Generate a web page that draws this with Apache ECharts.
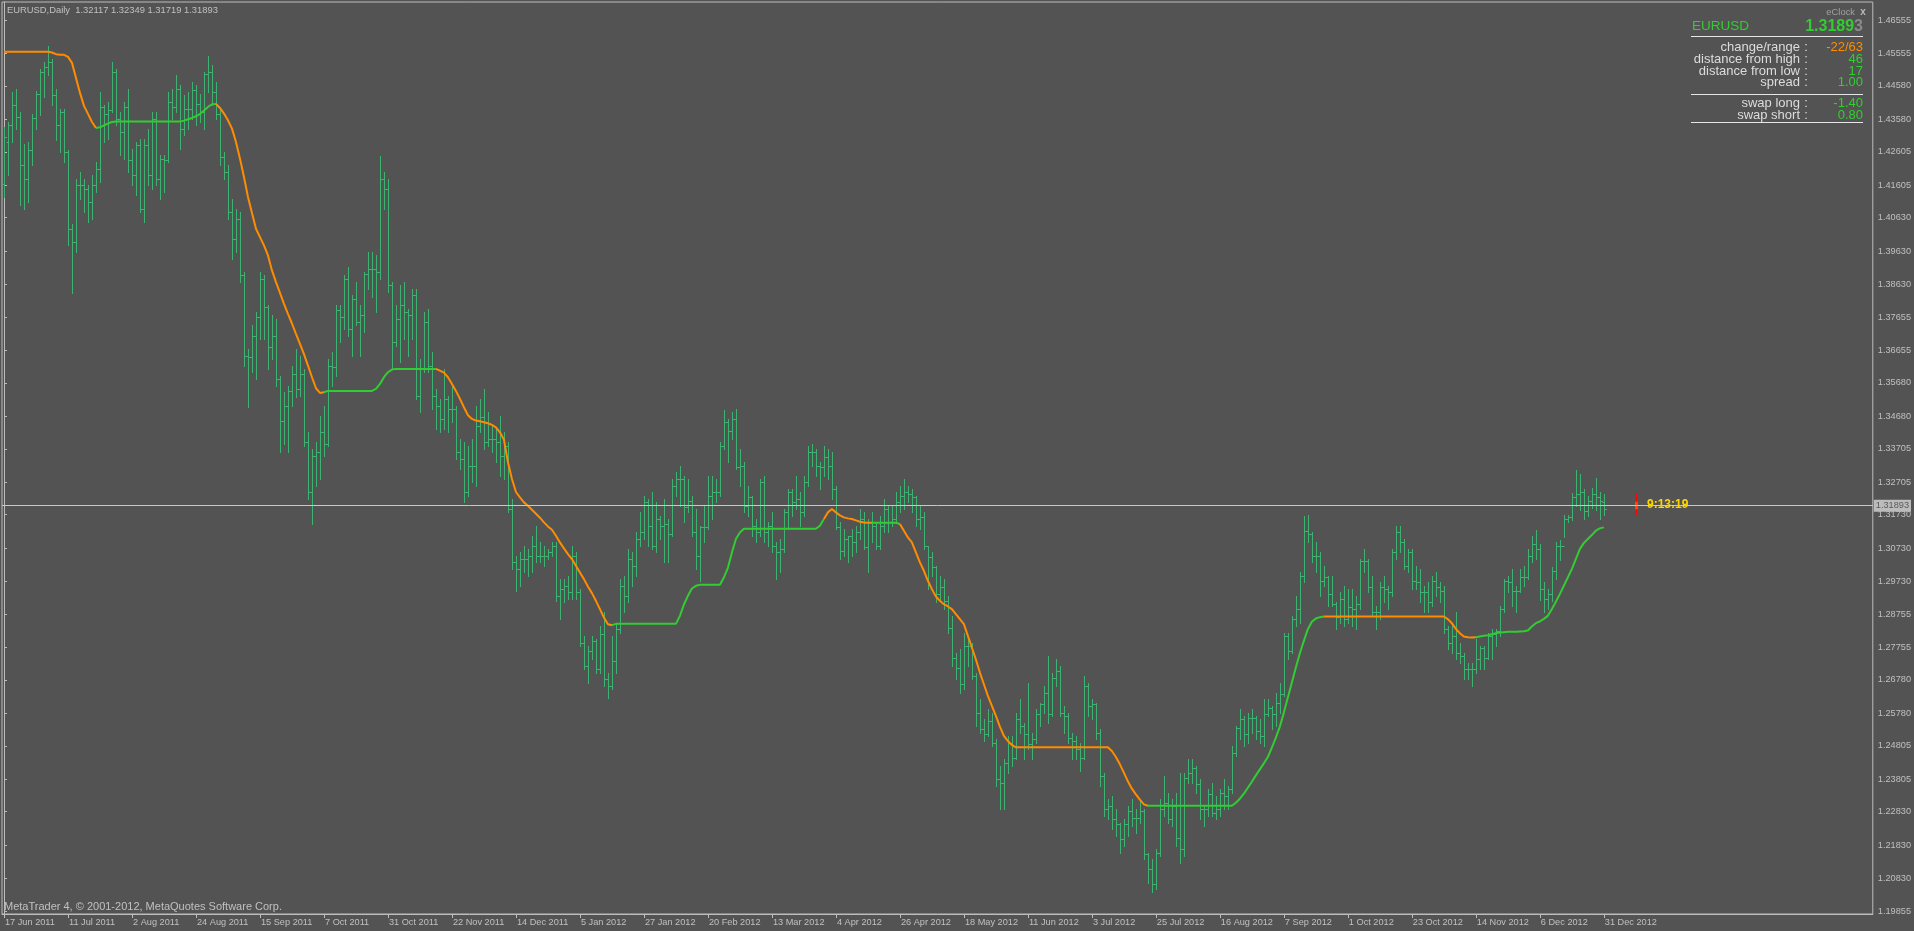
<!DOCTYPE html>
<html><head><meta charset="utf-8">
<script src="https://cdn.jsdelivr.net/npm/echarts@6/dist/echarts.min.js"></script>
<style>html,body{margin:0;padding:0;background:#535353;overflow:hidden}#c{width:1914px;height:931px}</style>
</head><body><div id="c"></div>
<script>
const tickLabels = ['17 Jun 2011','11 Jul 2011','2 Aug 2011','24 Aug 2011','15 Sep 2011','7 Oct 2011','31 Oct 2011','22 Nov 2011','14 Dec 2011','5 Jan 2012','27 Jan 2012','20 Feb 2012','13 Mar 2012','4 Apr 2012','26 Apr 2012','18 May 2012','11 Jun 2012','3 Jul 2012','25 Jul 2012','16 Aug 2012','7 Sep 2012','1 Oct 2012','23 Oct 2012','14 Nov 2012','6 Dec 2012','31 Dec 2012'];
const tickIndices = [0,16,32,48,64,80,96,112,128,144,160,176,192,208,224,240,256,272,288,304,320,336,352,368,384,400];
const yTickLabels = [1.46555,1.45555,1.44580,1.43580,1.42605,1.41605,1.40630,1.39630,1.38630,1.37655,1.36655,1.35680,1.34680,1.33705,1.32705,1.31730,1.30730,1.29730,1.28755,1.27755,1.26780,1.25780,1.24805,1.23805,1.22830,1.21830,1.20830,1.19855];
// daily bars [open, high, low, close]
const bars = [
[1.4165,1.4336,1.4125,1.4306],[1.4290,1.4350,1.4190,1.4340],[1.4340,1.4440,1.4290,1.4400],[1.4400,1.4450,1.4330,1.4366],[1.4366,1.4380,1.4100,1.4220],
[1.4220,1.4285,1.4090,1.4180],[1.4180,1.4290,1.4110,1.4265],[1.4265,1.4375,1.4220,1.4363],[1.4363,1.4443,1.4330,1.4433],[1.4433,1.4510,1.4370,1.4500],
[1.4500,1.4530,1.4425,1.4515],[1.4515,1.4578,1.4490,1.4530],[1.4530,1.4540,1.4400,1.4430],[1.4430,1.4450,1.4295,1.4340],[1.4340,1.4390,1.4260,1.4380],
[1.4380,1.4390,1.4230,1.4260],[1.4260,1.4265,1.3980,1.4030],[1.4030,1.4045,1.3837,1.3990],[1.3990,1.4180,1.3960,1.4160],[1.4160,1.4200,1.4120,1.4160],
[1.4160,1.4180,1.4080,1.4150],[1.4150,1.4160,1.4050,1.4110],[1.4110,1.4190,1.4060,1.4160],[1.4160,1.4230,1.4140,1.4210],[1.4210,1.4440,1.4170,1.4395],
[1.4395,1.4400,1.4290,1.4375],[1.4375,1.4410,1.4300,1.4385],[1.4385,1.4530,1.4380,1.4500],[1.4500,1.4510,1.4340,1.4360],[1.4360,1.4380,1.4250,1.4320],
[1.4320,1.4410,1.4240,1.4395],[1.4395,1.4450,1.4200,1.4235],[1.4235,1.4270,1.4160,1.4190],[1.4190,1.4290,1.4130,1.4280],[1.4280,1.4300,1.4080,1.4090],
[1.4090,1.4300,1.4050,1.4280],[1.4280,1.4330,1.4160,1.4190],[1.4190,1.4380,1.4150,1.4360],[1.4360,1.4380,1.4160,1.4180],[1.4180,1.4250,1.4120,1.4240],
[1.4240,1.4250,1.4140,1.4235],[1.4235,1.4440,1.4230,1.4410],[1.4410,1.4450,1.4360,1.4395],[1.4395,1.4490,1.4380,1.4450],[1.4450,1.4460,1.4270,1.4330],
[1.4330,1.4430,1.4310,1.4390],[1.4390,1.4440,1.4330,1.4390],[1.4390,1.4470,1.4360,1.4445],[1.4445,1.4460,1.4340,1.4405],[1.4405,1.4435,1.4350,1.4380],
[1.4380,1.4500,1.4330,1.4495],[1.4495,1.4548,1.4440,1.4500],[1.4500,1.4520,1.4400,1.4440],[1.4440,1.4470,1.4360,1.4375],[1.4375,1.4390,1.4220,1.4245],
[1.4245,1.4260,1.4180,1.4200],[1.4200,1.4220,1.4060,1.4080],[1.4080,1.4120,1.3940,1.4000],[1.4000,1.4090,1.3960,1.4060],[1.4060,1.4080,1.3870,1.3890],
[1.3890,1.3900,1.3620,1.3650],[1.3650,1.3670,1.3495,1.3645],[1.3645,1.3740,1.3600,1.3710],[1.3710,1.3780,1.3580,1.3765],[1.3765,1.3900,1.3700,1.3880],
[1.3880,1.3890,1.3700,1.3795],[1.3795,1.3800,1.3610,1.3675],[1.3675,1.3770,1.3640,1.3710],[1.3710,1.3760,1.3560,1.3580],[1.3580,1.3590,1.3360,1.3455],
[1.3455,1.3540,1.3385,1.3500],[1.3500,1.3560,1.3360,1.3545],[1.3545,1.3620,1.3500,1.3595],[1.3595,1.3670,1.3525,1.3550],[1.3550,1.3650,1.3530,1.3595],
[1.3595,1.3610,1.3380,1.3390],[1.3390,1.3420,1.3220,1.3240],[1.3240,1.3370,1.3146,1.3350],[1.3350,1.3390,1.3260,1.3360],[1.3360,1.3470,1.3280,1.3420],
[1.3420,1.3500,1.3350,1.3385],[1.3385,1.3640,1.3380,1.3620],[1.3620,1.3660,1.3560,1.3615],[1.3615,1.3800,1.3590,1.3785],[1.3785,1.3800,1.3690,1.3765],
[1.3765,1.3890,1.3730,1.3880],[1.3880,1.3915,1.3710,1.3730],[1.3730,1.3830,1.3650,1.3820],[1.3820,1.3870,1.3740,1.3750],[1.3750,1.3800,1.3650,1.3770],
[1.3770,1.3900,1.3720,1.3895],[1.3895,1.3960,1.3850,1.3910],[1.3910,1.3960,1.3825,1.3910],[1.3910,1.3950,1.3780,1.3900],[1.3900,1.4247,1.3880,1.4180],
[1.4180,1.4200,1.4090,1.4150],[1.4150,1.4180,1.3840,1.3860],[1.3860,1.3870,1.3610,1.3690],[1.3690,1.3800,1.3680,1.3760],[1.3760,1.3860,1.3630,1.3800],
[1.3800,1.3870,1.3700,1.3780],[1.3780,1.3790,1.3650,1.3770],[1.3770,1.3850,1.3700,1.3830],[1.3830,1.3850,1.3520,1.3530],[1.3530,1.3640,1.3480,1.3610],
[1.3610,1.3780,1.3600,1.3750],[1.3750,1.3790,1.3600,1.3620],[1.3620,1.3660,1.3490,1.3530],[1.3530,1.3550,1.3430,1.3500],[1.3500,1.3520,1.3420,1.3460],
[1.3460,1.3610,1.3430,1.3520],[1.3520,1.3530,1.3420,1.3490],[1.3490,1.3560,1.3450,1.3490],[1.3490,1.3500,1.3340,1.3360],[1.3360,1.3400,1.3310,1.3340],
[1.3340,1.3390,1.3210,1.3240],[1.3240,1.3380,1.3230,1.3320],[1.3320,1.3400,1.3270,1.3320],[1.3320,1.3500,1.3260,1.3440],[1.3440,1.3520,1.3420,1.3465],
[1.3465,1.3550,1.3370,1.3390],[1.3390,1.3480,1.3380,1.3400],[1.3400,1.3440,1.3360,1.3400],[1.3400,1.3430,1.3330,1.3390],[1.3390,1.3470,1.3290,1.3350],
[1.3350,1.3420,1.3280,1.3380],[1.3380,1.3390,1.3180,1.3190],[1.3190,1.3220,1.3010,1.3030],[1.3030,1.3050,1.2945,1.3010],[1.3010,1.3060,1.2960,1.3040],
[1.3040,1.3080,1.3000,1.3040],[1.3040,1.3070,1.2990,1.3050],[1.3050,1.3110,1.3000,1.3080],[1.3080,1.3140,1.3030,1.3050],[1.3050,1.3090,1.3030,1.3050],
[1.3050,1.3080,1.3020,1.3050],[1.3050,1.3070,1.3040,1.3060],[1.3060,1.3090,1.3050,1.3080],[1.3080,1.3090,1.2915,1.2930],[1.2930,1.2980,1.2860,1.2950],
[1.2950,1.2980,1.2910,1.2960],[1.2960,1.2990,1.2920,1.2940],[1.2940,1.3080,1.2920,1.3050],[1.3050,1.3060,1.2920,1.2940],[1.2940,1.2950,1.2780,1.2790],
[1.2790,1.2810,1.2710,1.2720],[1.2720,1.2780,1.2670,1.2765],[1.2765,1.2810,1.2740,1.2795],[1.2795,1.2800,1.2700,1.2710],[1.2710,1.2840,1.2700,1.2815],
[1.2815,1.2880,1.2660,1.2680],[1.2680,1.2700,1.2625,1.2660],[1.2660,1.2810,1.2650,1.2735],[1.2735,1.2850,1.2700,1.2830],[1.2830,1.2980,1.2820,1.2960],
[1.2960,1.2990,1.2880,1.2930],[1.2930,1.3070,1.2910,1.3040],[1.3040,1.3060,1.2960,1.3020],[1.3020,1.3120,1.2990,1.3100],[1.3100,1.3180,1.3080,1.3120],
[1.3120,1.3230,1.3100,1.3210],[1.3210,1.3220,1.3080,1.3140],[1.3140,1.3240,1.3070,1.3080],[1.3080,1.3210,1.3060,1.3160],[1.3160,1.3170,1.3100,1.3140],
[1.3140,1.3220,1.3030,1.3145],[1.3145,1.3160,1.3030,1.3115],[1.3115,1.3280,1.3110,1.3260],[1.3260,1.3300,1.3230,1.3280],[1.3280,1.3320,1.3200,1.3280],
[1.3280,1.3290,1.3150,1.3195],[1.3195,1.3280,1.3180,1.3215],[1.3215,1.3230,1.3110,1.3120],[1.3120,1.3190,1.3010,1.3050],[1.3050,1.3140,1.2975,1.3135],
[1.3135,1.3200,1.3090,1.3135],[1.3135,1.3290,1.3130,1.3230],[1.3230,1.3290,1.3160,1.3240],[1.3240,1.3280,1.3210,1.3240],[1.3240,1.3390,1.3230,1.3380],
[1.3380,1.3486,1.3370,1.3450],[1.3450,1.3460,1.3330,1.3425],[1.3425,1.3480,1.3400,1.3460],[1.3460,1.3490,1.3310,1.3315],[1.3315,1.3370,1.3260,1.3320],
[1.3320,1.3330,1.3180,1.3200],[1.3200,1.3260,1.3170,1.3225],[1.3225,1.3230,1.3110,1.3140],[1.3140,1.3160,1.3090,1.3120],[1.3120,1.3280,1.3110,1.3270],
[1.3270,1.3290,1.3090,1.3120],[1.3120,1.3150,1.3080,1.3140],[1.3140,1.3180,1.3060,1.3080],[1.3080,1.3090,1.2980,1.3060],[1.3060,1.3100,1.3000,1.3070],
[1.3070,1.3190,1.3060,1.3180],[1.3180,1.3250,1.3130,1.3240],[1.3240,1.3250,1.3170,1.3210],[1.3210,1.3290,1.3190,1.3220],[1.3220,1.3240,1.3140,1.3180],
[1.3180,1.3290,1.3170,1.3270],[1.3270,1.3380,1.3260,1.3360],[1.3360,1.3385,1.3320,1.3360],[1.3360,1.3370,1.3290,1.3320],[1.3320,1.3330,1.3250,1.3315],
[1.3315,1.3380,1.3290,1.3345],[1.3345,1.3370,1.3280,1.3320],[1.3320,1.3360,1.3220,1.3250],[1.3250,1.3260,1.3130,1.3135],[1.3135,1.3150,1.3040,1.3065],
[1.3065,1.3130,1.3050,1.3100],[1.3100,1.3110,1.3030,1.3110],[1.3110,1.3130,1.3050,1.3090],[1.3090,1.3140,1.3060,1.3120],[1.3120,1.3190,1.3100,1.3160],
[1.3160,1.3180,1.3070,1.3075],[1.3075,1.3160,1.3000,1.3150],[1.3150,1.3180,1.3090,1.3140],[1.3140,1.3150,1.3070,1.3080],[1.3080,1.3170,1.3070,1.3140],
[1.3140,1.3220,1.3120,1.3190],[1.3190,1.3200,1.3120,1.3150],[1.3150,1.3200,1.3140,1.3160],[1.3160,1.3240,1.3150,1.3210],[1.3210,1.3260,1.3180,1.3230],
[1.3230,1.3280,1.3190,1.3240],[1.3240,1.3260,1.3210,1.3235],[1.3235,1.3250,1.3180,1.3225],[1.3225,1.3230,1.3140,1.3160],[1.3160,1.3200,1.3130,1.3165],
[1.3165,1.3180,1.3070,1.3080],[1.3080,1.3080,1.2950,1.3045],[1.3045,1.3060,1.2990,1.3015],[1.3015,1.3020,1.2910,1.2935],[1.2935,1.2990,1.2920,1.2955],
[1.2955,1.2980,1.2890,1.2915],[1.2915,1.2930,1.2820,1.2835],[1.2835,1.2870,1.2720,1.2745],[1.2745,1.2760,1.2680,1.2715],[1.2715,1.2770,1.2640,1.2665],
[1.2665,1.2820,1.2650,1.2780],[1.2780,1.2810,1.2720,1.2780],[1.2780,1.2790,1.2680,1.2690],[1.2690,1.2700,1.2540,1.2580],[1.2580,1.2620,1.2520,1.2530],
[1.2530,1.2560,1.2495,1.2515],[1.2515,1.2590,1.2510,1.2555],[1.2555,1.2580,1.2480,1.2490],[1.2490,1.2500,1.2360,1.2380],[1.2380,1.2420,1.2290,1.2370],
[1.2370,1.2440,1.2290,1.2430],[1.2430,1.2510,1.2400,1.2490],[1.2490,1.2510,1.2420,1.2445],[1.2445,1.2580,1.2440,1.2560],[1.2560,1.2620,1.2520,1.2540],
[1.2540,1.2550,1.2440,1.2515],[1.2515,1.2670,1.2470,1.2485],[1.2485,1.2520,1.2440,1.2500],[1.2500,1.2590,1.2490,1.2575],[1.2575,1.2610,1.2540,1.2605],
[1.2605,1.2660,1.2580,1.2640],[1.2640,1.2750,1.2550,1.2575],[1.2575,1.2700,1.2570,1.2685],[1.2685,1.2740,1.2660,1.2705],[1.2705,1.2720,1.2570,1.2580],
[1.2580,1.2600,1.2520,1.2570],[1.2570,1.2580,1.2490,1.2505],[1.2505,1.2520,1.2440,1.2495],[1.2495,1.2510,1.2440,1.2470],[1.2470,1.2490,1.2405,1.2445],
[1.2445,1.2690,1.2440,1.2660],[1.2660,1.2670,1.2570,1.2600],[1.2600,1.2620,1.2560,1.2605],[1.2605,1.2610,1.2500,1.2520],[1.2520,1.2530,1.2360,1.2390],
[1.2390,1.2400,1.2270,1.2290],[1.2290,1.2320,1.2260,1.2300],[1.2300,1.2330,1.2230,1.2260],[1.2260,1.2290,1.2210,1.2245],[1.2245,1.2250,1.2160,1.2200],
[1.2200,1.2260,1.2180,1.2245],[1.2245,1.2300,1.2210,1.2285],[1.2285,1.2320,1.2240,1.2265],[1.2265,1.2290,1.2220,1.2265],[1.2265,1.2320,1.2250,1.2285],
[1.2285,1.2290,1.2140,1.2155],[1.2155,1.2160,1.2070,1.2110],[1.2110,1.2140,1.2042,1.2065],[1.2065,1.2170,1.2050,1.2160],[1.2160,1.2320,1.2150,1.2290],
[1.2290,1.2390,1.2270,1.2310],[1.2310,1.2340,1.2250,1.2260],[1.2260,1.2320,1.2240,1.2300],[1.2300,1.2340,1.2180,1.2205],[1.2205,1.2400,1.2130,1.2170],
[1.2170,1.2400,1.2150,1.2385],[1.2385,1.2440,1.2370,1.2400],[1.2400,1.2440,1.2370,1.2415],[1.2415,1.2420,1.2340,1.2365],[1.2365,1.2380,1.2260,1.2290],
[1.2290,1.2300,1.2240,1.2290],[1.2290,1.2350,1.2270,1.2335],[1.2335,1.2370,1.2270,1.2280],[1.2280,1.2330,1.2260,1.2290],[1.2290,1.2350,1.2270,1.2340],
[1.2340,1.2380,1.2290,1.2330],[1.2330,1.2360,1.2290,1.2350],[1.2350,1.2480,1.2340,1.2460],[1.2460,1.2540,1.2450,1.2535],[1.2535,1.2590,1.2500,1.2560],
[1.2560,1.2570,1.2480,1.2515],[1.2515,1.2580,1.2490,1.2565],[1.2565,1.2590,1.2520,1.2565],[1.2565,1.2570,1.2500,1.2525],[1.2525,1.2560,1.2490,1.2510],
[1.2510,1.2620,1.2480,1.2575],[1.2575,1.2620,1.2570,1.2595],[1.2595,1.2600,1.2530,1.2575],[1.2575,1.2640,1.2540,1.2610],[1.2610,1.2670,1.2580,1.2635],
[1.2635,1.2820,1.2630,1.2810],[1.2810,1.2820,1.2740,1.2765],[1.2765,1.2870,1.2760,1.2860],[1.2860,1.2930,1.2840,1.2890],[1.2890,1.3000,1.2850,1.2990],
[1.2990,1.3170,1.2970,1.3125],[1.3125,1.3172,1.3090,1.3115],[1.3115,1.3120,1.3030,1.3050],[1.3050,1.3090,1.3000,1.3050],[1.3050,1.3060,1.2930,1.2975],
[1.2975,1.3020,1.2960,1.2985],[1.2985,1.2990,1.2900,1.2935],[1.2935,1.2990,1.2900,1.2905],[1.2905,1.2910,1.2830,1.2865],[1.2865,1.2940,1.2850,1.2920],
[1.2920,1.2960,1.2840,1.2860],[1.2860,1.2950,1.2850,1.2895],[1.2895,1.2950,1.2840,1.2890],[1.2890,1.2930,1.2830,1.2905],[1.2905,1.3040,1.2890,1.3035],
[1.3035,1.3070,1.3000,1.3035],[1.3035,1.3040,1.2940,1.2955],[1.2955,1.2990,1.2870,1.2880],[1.2880,1.2900,1.2830,1.2880],[1.2880,1.2970,1.2860,1.2955],
[1.2955,1.2990,1.2910,1.2950],[1.2950,1.2960,1.2890,1.2940],[1.2940,1.3070,1.2930,1.3060],[1.3060,1.3140,1.3040,1.3120],[1.3120,1.3140,1.3060,1.3090],
[1.3090,1.3100,1.3010,1.3020],[1.3020,1.3070,1.3000,1.3060],[1.3060,1.3070,1.2950,1.2975],[1.2975,1.3020,1.2950,1.2970],[1.2970,1.3010,1.2910,1.2940],
[1.2940,1.2960,1.2880,1.2940],[1.2940,1.2970,1.2880,1.2910],[1.2910,1.2990,1.2900,1.2975],[1.2975,1.3000,1.2930,1.2955],[1.2955,1.2970,1.2910,1.2945],
[1.2945,1.2960,1.2820,1.2830],[1.2830,1.2840,1.2770,1.2790],[1.2790,1.2850,1.2760,1.2810],[1.2810,1.2880,1.2740,1.2760],[1.2760,1.2790,1.2730,1.2750],
[1.2750,1.2760,1.2680,1.2710],[1.2710,1.2730,1.2680,1.2710],[1.2710,1.2730,1.2661,1.2710],[1.2710,1.2800,1.2700,1.2740],[1.2740,1.2780,1.2710,1.2775],
[1.2775,1.2780,1.2710,1.2745],[1.2745,1.2820,1.2740,1.2810],[1.2810,1.2830,1.2740,1.2815],[1.2815,1.2830,1.2780,1.2825],[1.2825,1.2900,1.2810,1.2890],
[1.2890,1.2980,1.2880,1.2975],[1.2975,1.2990,1.2940,1.2970],[1.2970,1.3010,1.2900,1.2945],[1.2945,1.2960,1.2880,1.2945],[1.2945,1.3010,1.2940,1.2985],
[1.2985,1.3020,1.2960,1.2985],[1.2985,1.3070,1.2980,1.3050],[1.3050,1.3110,1.3030,1.3085],[1.3085,1.3127,1.3040,1.3070],[1.3070,1.3085,1.2917,1.2950],
[1.2950,1.2970,1.2880,1.2920],[1.2920,1.2950,1.2890,1.2935],[1.2935,1.3017,1.2913,1.3005],[1.3005,1.3090,1.2980,1.3080],[1.3080,1.3097,1.3037,1.3080],
[1.3080,1.3172,1.3106,1.3160],[1.3160,1.3172,1.3152,1.3165],[1.3165,1.3239,1.3157,1.3225],[1.3225,1.3306,1.3200,1.3235],[1.3235,1.3295,1.3186,1.3240],
[1.3240,1.3250,1.3160,1.3185],[1.3185,1.3230,1.3170,1.3215],[1.3215,1.3253,1.3193,1.3235],[1.3235,1.3283,1.3186,1.3225],[1.3225,1.3240,1.3160,1.3215],
[1.32117,1.32349,1.31719,1.31893]
];
const trendLine = [
1.4560,1.4560,1.4560,1.4560,1.4560,1.4560,1.4560,1.4560,1.4560,1.4560,
1.4560,1.4560,1.4558,1.4553,1.4551,1.4551,1.4545,1.4527,1.4482,1.4437,
1.4398,1.4374,1.4350,1.4332,1.4334,1.4340,1.4345,1.4350,1.4351,1.4351,
1.4351,1.4351,1.4351,1.4351,1.4351,1.4351,1.4351,1.4351,1.4351,1.4351,
1.4351,1.4351,1.4351,1.4351,1.4351,1.4354,1.4358,1.4362,1.4367,1.4374,
1.4384,1.4395,1.4403,1.4404,1.4392,1.4375,1.4355,1.4330,1.4290,1.4240,
1.4185,1.4125,1.4077,1.4030,1.4005,1.3980,1.3950,1.3905,1.3870,1.3838,
1.3805,1.3775,1.3746,1.3715,1.3685,1.3654,1.3620,1.3585,1.3552,1.3538,
1.3540,1.3544,1.3544,1.3544,1.3544,1.3544,1.3544,1.3544,1.3544,1.3544,
1.3544,1.3544,1.3544,1.3550,1.3565,1.3585,1.3600,1.3608,1.3610,1.3610,
1.3610,1.3610,1.3610,1.3610,1.3610,1.3610,1.3610,1.3610,1.3610,1.3605,
1.3599,1.3585,1.3565,1.3544,1.3520,1.3495,1.3471,1.3460,1.3455,1.3453,
1.3450,1.3447,1.3442,1.3435,1.3420,1.3398,1.3330,1.3280,1.3241,1.3225,
1.3210,1.3200,1.3188,1.3176,1.3164,1.3150,1.3138,1.3128,1.3110,1.3090,
1.3072,1.3055,1.3040,1.3020,1.3000,1.2980,1.2958,1.2938,1.2915,1.2890,
1.2865,1.2845,1.2842,1.2846,1.2846,1.2846,1.2846,1.2846,1.2846,1.2846,
1.2846,1.2846,1.2846,1.2846,1.2846,1.2846,1.2846,1.2846,1.2846,1.2870,
1.2904,1.2930,1.2952,1.2960,1.2963,1.2963,1.2963,1.2963,1.2963,1.2963,
1.2985,1.3014,1.3060,1.3100,1.3120,1.3131,1.3131,1.3131,1.3131,1.3131,
1.3131,1.3131,1.3131,1.3131,1.3131,1.3131,1.3131,1.3131,1.3131,1.3131,
1.3131,1.3131,1.3131,1.3131,1.3140,1.3160,1.3180,1.3190,1.3180,1.3171,
1.3165,1.3162,1.3160,1.3156,1.3152,1.3150,1.3149,1.3149,1.3149,1.3149,
1.3149,1.3149,1.3149,1.3149,1.3145,1.3125,1.3105,1.3090,1.3060,1.3030,
1.3005,1.2975,1.2950,1.2928,1.2915,1.2905,1.2898,1.2890,1.2875,1.2860,
1.2845,1.2810,1.2775,1.2739,1.2700,1.2665,1.2630,1.2600,1.2570,1.2538,
1.2510,1.2495,1.2483,1.2476,1.2476,1.2476,1.2476,1.2476,1.2476,1.2476,
1.2476,1.2476,1.2476,1.2476,1.2476,1.2476,1.2476,1.2476,1.2476,1.2476,
1.2476,1.2476,1.2476,1.2476,1.2476,1.2476,1.2476,1.2465,1.2447,1.2425,
1.2400,1.2374,1.2352,1.2335,1.2319,1.2305,1.2301,1.2301,1.2301,1.2301,
1.2301,1.2301,1.2301,1.2301,1.2301,1.2301,1.2301,1.2301,1.2301,1.2301,
1.2301,1.2301,1.2301,1.2301,1.2301,1.2301,1.2301,1.2301,1.2310,1.2322,
1.2337,1.2355,1.2373,1.2392,1.2410,1.2428,1.2447,1.2475,1.2505,1.2538,
1.2580,1.2625,1.2670,1.2715,1.2758,1.2795,1.2830,1.2852,1.2862,1.2866,
1.2868,1.2868,1.2868,1.2868,1.2868,1.2868,1.2868,1.2868,1.2868,1.2868,
1.2868,1.2868,1.2868,1.2868,1.2868,1.2868,1.2868,1.2868,1.2868,1.2868,
1.2868,1.2868,1.2868,1.2868,1.2868,1.2868,1.2868,1.2868,1.2868,1.2868,
1.2868,1.2860,1.2848,1.2831,1.2818,1.2808,1.2806,1.2805,1.2806,1.2808,
1.2810,1.2812,1.2815,1.2818,1.2820,1.2821,1.2822,1.2822,1.2822,1.2823,
1.2824,1.2826,1.2838,1.2848,1.2853,1.2861,1.2870,1.2890,1.2912,1.2935,
1.2960,1.2985,1.3010,1.3040,1.3070,1.3088,1.3100,1.3112,1.3125,1.3132,
1.3135
];
// [first bar index, direction] : 1 = up (green), -1 = down (orange)
const trendSegments = [[0,-1],[23,1],[53,-1],[80,1],[108,-1],[152,1],[205,-1],[217,1],[224,-1],[286,1],[330,-1],[368,1]];
const lastPrice = 1.31893;
const clockText = '9:13:19';
const clockBarShift = 8;

const FONT = 'Liberation Sans, Arial, sans-serif';
const chart = echarts.init(document.getElementById('c'), null, {renderer: 'canvas'});

function dirAt(i) { let d = trendSegments[0][1]; for (const s of trendSegments) { if (i >= s[0]) d = s[1]; } return d; }
const upData = [], dnData = [];
for (let i = 0; i < trendLine.length; i++) {
  const d = dirAt(i), dp = i > 0 ? dirAt(i - 1) : d;
  upData.push([i, (d === 1 || dp === 1) ? trendLine[i] : '-']);
  dnData.push([i, (d === -1 || dp === -1) ? trendLine[i] : '-']);
}
const barData = bars.map((b, i) => [i, b[0], b[1], b[2], b[3]]);
const last = bars[bars.length - 1];
const clockData = [[bars.length - 1 + clockBarShift, last[0], last[1], last[2], last[3]]];

function ohlcItem(params, api) {
  const k = api.value(0), o = api.value(1), h = api.value(2), l = api.value(3), c = api.value(4);
  const ph = api.coord([k, h]), pl = api.coord([k, l]), po = api.coord([k, o]), pc = api.coord([k, c]);
  const x = Math.round(ph[0]) + 0.5;
  const yo = Math.round(po[1]) + 0.5, yc = Math.round(pc[1]) + 0.5;
  const st = {stroke: '#3CB371', lineWidth: 1};
  return {type: 'group', children: [
    {type: 'line', shape: {x1: x, y1: Math.round(ph[1]), x2: x, y2: Math.round(pl[1]) + 1}, style: st},
    {type: 'line', shape: {x1: x - 2, y1: yo, x2: x, y2: yo}, style: st},
    {type: 'line', shape: {x1: x, y1: yc, x2: x + 2.5, y2: yc}, style: st}
  ]};
}
function clockItem(params, api) {
  const k = api.value(0), o = api.value(1), h = api.value(2), l = api.value(3), c = api.value(4);
  const ph = api.coord([k, h]), pl = api.coord([k, l]), po = api.coord([k, o]), pc = api.coord([k, c]);
  const x = Math.round(ph[0]) + 0.5;
  const top = Math.min(po[1], pc[1]), bot = Math.max(po[1], pc[1]);
  return {type: 'group', children: [
    {type: 'line', shape: {x1: x, y1: ph[1], x2: x, y2: pl[1]}, style: {stroke: '#FF0000', lineWidth: 1}},
    {type: 'rect', shape: {x: x - 1.5, y: top, width: 3, height: bot - top}, style: {fill: '#FF4500'}}
  ]};
}

const txt = (x, y, text, o) => Object.assign({type: 'text', x: x, y: y, silent: true, style: Object.assign({text: text, font: '9.2px ' + FONT, fill: '#c0c0c0', textVerticalAlign: 'middle'}, o || {})});
const hline = (y) => ({type: 'line', silent: true, shape: {x1: 1691, y1: y, x2: 1863, y2: y}, style: {stroke: '#e6e6e6', lineWidth: 1}});
const lab = '13px ' + FONT;
const graphics = [
  txt(7, 10, 'EURUSD,Daily  1.32117 1.32349 1.31719 1.31893', {font: '9.4px ' + FONT}),
  txt(4, 906.5, 'MetaTrader 4, \u00A9 2001-2012, MetaQuotes Software Corp.', {font: '11px ' + FONT}),
  txt(1855, 12, 'eClock', {font: '9.4px ' + FONT, fill: '#a0a0a0', textAlign: 'right'}),
  txt(1863, 12, 'x', {font: 'bold 10px ' + FONT, fill: '#b8b8b8', textAlign: 'center'}),
  txt(1692, 26.5, 'EURUSD', {font: '13.5px ' + FONT, fill: '#32CD32'}),
  {type: 'text', x: 1863, y: 27, silent: true, style: {text: '{a|1.3189}{b|3}', textAlign: 'right', textVerticalAlign: 'middle',
    rich: {a: {font: 'bold 16px ' + FONT, fill: '#32CD32'}, b: {font: 'bold 16px ' + FONT, fill: '#8a8a8a'}}}},
  hline(36.5),
  txt(1800, 47, 'change/range', {font: lab, fill: '#dcdcdc', textAlign: 'right'}),
  txt(1800, 59, 'distance from high', {font: lab, fill: '#dcdcdc', textAlign: 'right'}),
  txt(1800, 71, 'distance from low', {font: lab, fill: '#dcdcdc', textAlign: 'right'}),
  txt(1800, 82.5, 'spread', {font: lab, fill: '#dcdcdc', textAlign: 'right'}),
  txt(1806, 47, ':', {font: lab, fill: '#dcdcdc', textAlign: 'center'}),
  txt(1806, 59, ':', {font: lab, fill: '#dcdcdc', textAlign: 'center'}),
  txt(1806, 71, ':', {font: lab, fill: '#dcdcdc', textAlign: 'center'}),
  txt(1806, 82.5, ':', {font: lab, fill: '#dcdcdc', textAlign: 'center'}),
  txt(1863, 47, '-22/63', {font: lab, fill: '#FF8C00', textAlign: 'right'}),
  txt(1863, 59, '46', {font: lab, fill: '#32CD32', textAlign: 'right'}),
  txt(1863, 71, '17', {font: lab, fill: '#32CD32', textAlign: 'right'}),
  txt(1863, 82.5, '1.00', {font: lab, fill: '#32CD32', textAlign: 'right'}),
  hline(94.5),
  txt(1800, 103, 'swap long', {font: lab, fill: '#dcdcdc', textAlign: 'right'}),
  txt(1800, 115, 'swap short', {font: lab, fill: '#dcdcdc', textAlign: 'right'}),
  txt(1806, 103, ':', {font: lab, fill: '#dcdcdc', textAlign: 'center'}),
  txt(1806, 115, ':', {font: lab, fill: '#dcdcdc', textAlign: 'center'}),
  txt(1863, 103, '-1.40', {font: lab, fill: '#32CD32', textAlign: 'right'}),
  txt(1863, 115, '0.80', {font: lab, fill: '#32CD32', textAlign: 'right'}),
  hline(122.5),
  txt(1647, 505, clockText, {font: 'bold 12px ' + FONT, fill: '#FFD700'})
];

const option = {
  backgroundColor: '#535353',
  animation: false,
  grid: {left: 2, top: 2, right: 41, bottom: 17, show: true, borderColor: '#bdbdbd', borderWidth: 1, backgroundColor: 'transparent'},
  xAxis: {
    type: 'value', min: -0.5, max: 467.25,
    axisLine: {show: true, lineStyle: {color: '#bdbdbd'}},
    axisTick: {show: true, length: 4, customValues: tickIndices, lineStyle: {color: '#bdbdbd'}},
    axisLabel: {show: true, customValues: tickIndices, color: '#c0c0c0', fontFamily: FONT, fontSize: 9.2, margin: 4, align: 'left', padding: [0, 0, 0, 1],
      formatter: (v) => tickLabels[tickIndices.indexOf(Math.round(v))] || ''},
    splitLine: {show: false}
  },
  yAxis: {
    type: 'value', position: 'right', min: 1.19765, max: 1.47094,
    axisLine: {show: true, lineStyle: {color: '#bdbdbd'}},
    axisTick: {show: true, length: 3, customValues: yTickLabels, lineStyle: {color: '#bdbdbd'}},
    axisLabel: {show: true, customValues: yTickLabels, color: '#c0c0c0', fontFamily: FONT, fontSize: 9.2, margin: 5,
      formatter: (v) => v.toFixed(5)},
    splitLine: {show: false}
  },
  graphic: graphics,
  series: [
    {type: 'custom', name: 'bars', renderItem: ohlcItem, data: barData, encode: {x: 0, y: [1, 2, 3, 4]}, clip: true, z: 2, silent: true},
    {type: 'line', name: 'up', data: upData, showSymbol: false, symbol: 'none', connectNulls: false, lineStyle: {color: '#32CD32', width: 2}, itemStyle: {color: '#32CD32'}, z: 3, silent: true},
    {type: 'line', name: 'down', data: dnData, showSymbol: false, symbol: 'none', connectNulls: false, lineStyle: {color: '#FF8C00', width: 2}, itemStyle: {color: '#FF8C00'}, z: 3, silent: true,
      markLine: {silent: true, symbol: 'none', animation: false, data: [{yAxis: lastPrice}],
        lineStyle: {color: '#c8c8c8', width: 1, type: 'solid'},
        label: {show: true, position: 'end', distance: 1, formatter: lastPrice.toFixed(5), backgroundColor: '#bcbcbc', color: '#5a5a5a', fontFamily: FONT, fontSize: 9.2, padding: [2, 2, 1, 2]}}},
    {type: 'custom', name: 'clock', renderItem: clockItem, data: clockData, encode: {x: 0, y: [1, 2, 3, 4]}, z: 4, silent: true}
  ]
};
chart.setOption(option);
</script>
</body></html>
